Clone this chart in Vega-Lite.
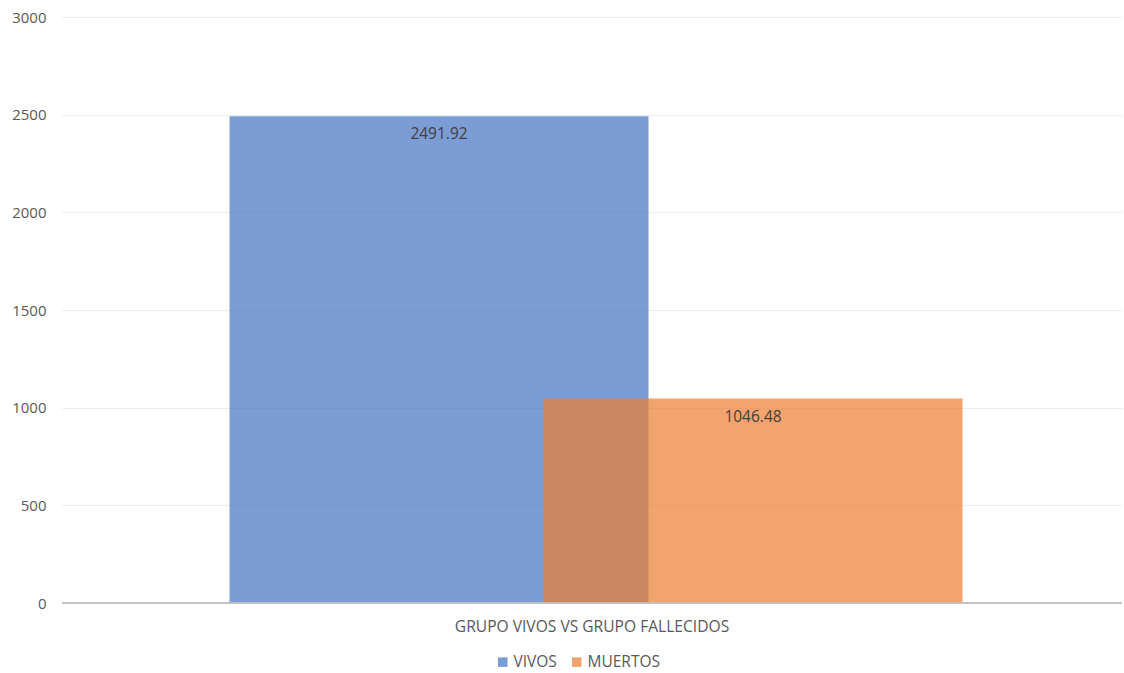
{
  "$schema": "https://vega.github.io/schema/vega-lite/v6.json",
  "width": 1060,
  "height": 586,
  "autosize": {"type": "none"},
  "padding": {"left": 62, "top": 17, "right": 2, "bottom": 70},
  "background": "#ffffff",
  "config": {
    "view": {"stroke": null},
    "font": "Open Sans",
    "axis": {"labelFont": "Open Sans", "labelColor": "#595959", "labelFontSize": 15}
  },
  "data": {
    "values": [
      {"grupo": "GRUPO VIVOS VS GRUPO FALLECIDOS", "serie": "VIVOS", "valor": 2491.92},
      {"grupo": "GRUPO VIVOS VS GRUPO FALLECIDOS", "serie": "MUERTOS", "valor": 1046.48}
    ]
  },
  "encoding": {
    "x": {
      "field": "grupo", "type": "nominal",
      "scale": {"paddingInner": 0, "paddingOuter": 0},
      "axis": {"title": null, "labelAngle": 0, "ticks": false, "domain": false, "labelPadding": 16, "labelFontSize": 15.6, "labelLimit": 0}
    },
    "xOffset": {
      "field": "serie", "type": "nominal",
      "sort": ["VIVOS", "MUERTOS"],
      "scale": {"type": "band", "range": [220, 848], "paddingInner": 0, "paddingOuter": 0}
    },
    "y": {
      "field": "valor", "type": "quantitative",
      "scale": {"domain": [0, 3000], "nice": false},
      "axis": {"title": null, "values": [0, 500, 1000, 1500, 2000, 2500, 3000], "format": "d", "ticks": false, "domain": false, "labelPadding": 16, "gridColor": "#ECECEC", "gridWidth": 1}
    }
  },
  "layer": [
    {
      "mark": {"type": "bar", "width": 419, "opacity": 0.7},
      "encoding": {
        "color": {
          "field": "serie", "type": "nominal",
          "sort": ["VIVOS", "MUERTOS"],
          "scale": {"domain": ["VIVOS", "MUERTOS"], "range": ["#4472C4", "#ED7D31"]},
          "legend": {"title": null, "orient": "none", "legendX": 433, "legendY": 637, "direction": "horizontal", "symbolType": "square", "symbolSize": 90, "labelFont": "Open Sans", "labelFontSize": 15.5, "labelColor": "#595959", "columnPadding": 12, "labelOffset": 3, "symbolOpacity": 0.7, "symbolStrokeWidth": 0}
        }
      }
    },
    {
      "mark": {"type": "text", "baseline": "middle", "dy": 18, "color": "#404040", "fontSize": 15.5, "font": "Open Sans"},
      "encoding": {"text": {"field": "valor", "type": "quantitative", "format": ".2f"}}
    },
    {
      "mark": {"type": "rule", "color": "#BFBFBF", "strokeWidth": 1.5},
      "encoding": {"y": {"datum": 0}, "xOffset": null, "x": null}
    }
  ]
}
